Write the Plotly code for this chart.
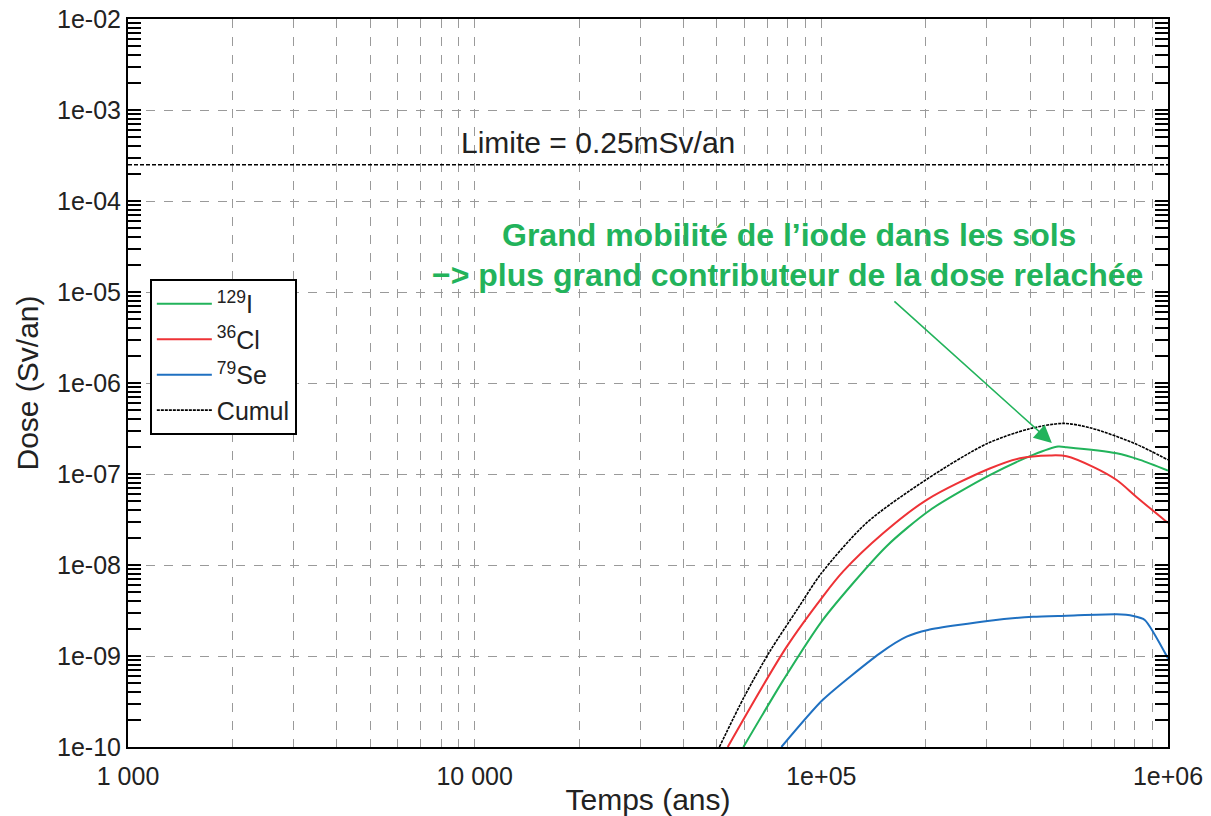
import plotly.graph_objects as go

# ---- Data (years, Sv/an) ----
t_cumul = [50800, 60000, 71000, 85000, 100000, 135000, 200000, 300000, 400000, 500000, 600000, 800000, 1000000]
d_cumul = [1e-10, 3.6e-10, 1.12e-9, 3.2e-9, 8.1e-9, 2.9e-8, 8.6e-8, 2.15e-7, 3.15e-7, 3.6e-7, 3.2e-7, 2.17e-7, 1.43e-7]

t_cl = [53700, 79400, 101000, 115600, 150700, 201400, 306000, 374000, 456000, 510000, 608000, 711000, 811000, 1000000]
d_cl = [1e-10, 1.26e-9, 4.5e-9, 8.5e-9, 2.23e-8, 5.2e-8, 1.15e-7, 1.49e-7, 1.6e-7, 1.57e-7, 1.2e-7, 8.6e-8, 5.6e-8, 2.9e-8]

t_i = [59600, 77600, 101000, 154000, 205600, 306000, 408000, 482000, 510000, 711000, 830000, 1000000]
d_i = [1e-10, 5.4e-10, 2.5e-9, 1.6e-8, 4.0e-8, 9.7e-8, 1.62e-7, 2.0e-7, 1.97e-7, 1.69e-7, 1.43e-7, 1.09e-7]

t_se = [76700, 101000, 147500, 176200, 203000, 306000, 408000, 510000, 711000, 794000, 857000, 1000000]
d_se = [1e-10, 3.3e-10, 1.07e-9, 1.63e-9, 1.93e-9, 2.44e-9, 2.7e-9, 2.77e-9, 2.87e-9, 2.75e-9, 2.49e-9, 9.4e-10]

limit_t = [1000, 1000000]
limit_d = [2.5e-4, 2.5e-4]

x_tickvals = [1e3, 1e4, 1e5, 1e6]
x_ticktext = ["1 000", "10 000", "1e+05", "1e+06"]
y_tickvals = [1e-10, 1e-9, 1e-8, 1e-7, 1e-6, 1e-5, 1e-4, 1e-3, 1e-2]
y_ticktext = ["1e-10", "1e-09", "1e-08", "1e-07", "1e-06", "1e-05", "1e-04", "1e-03", "1e-02"]

GREEN = "#22b35b"
RED = "#ee3236"
BLUE = "#1f70c1"
FONT = "Liberation Sans, Arial, sans-serif"
TXT = "#222"

x_minor = [k * 10 ** e for e in range(3, 6) for k in range(2, 10)]
y_minor = [k * 10 ** e for e in range(-10, -2) for k in range(2, 10)]

fig = go.Figure()
fig.add_trace(go.Scatter(x=limit_t, y=limit_d, mode="lines", showlegend=False,
                         line=dict(color="black", width=1.5, dash="4px,2px"), hoverinfo="skip"))
fig.add_trace(go.Scatter(x=t_i, y=d_i, mode="lines", name="<sup>129</sup>I",
                         line=dict(color=GREEN, width=2, shape="spline", smoothing=0.7)))
fig.add_trace(go.Scatter(x=t_cl, y=d_cl, mode="lines", name="<sup>36</sup>Cl",
                         line=dict(color=RED, width=2, shape="spline", smoothing=0.9)))
fig.add_trace(go.Scatter(x=t_se, y=d_se, mode="lines", name="<sup>79</sup>Se",
                         line=dict(color=BLUE, width=2, shape="spline", smoothing=0.6)))
fig.add_trace(go.Scatter(x=t_cumul, y=d_cumul, mode="lines", name="Cumul",
                         line=dict(color="black", width=1.6, dash="3px,1px", shape="spline", smoothing=0.8)))

fig.update_layout(
    width=1211, height=816,
    margin=dict(l=128, r=43, t=19, b=69, autoexpand=False),
    paper_bgcolor="white", plot_bgcolor="white",
    font=dict(family=FONT, size=25, color=TXT),
    showlegend=True,
    legend=dict(x=0.021, y=0.643, xanchor="left", yanchor="top",
                bgcolor="white", bordercolor="black", borderwidth=2,
                font=dict(size=25, color=TXT), itemwidth=55, tracegroupgap=0),
)

fig.update_xaxes(
    type="log", range=[3, 6], automargin=False,
    tickmode="array", tickvals=x_tickvals, ticktext=x_ticktext,
    ticks="", ticklabelstandoff=6,
    tickfont=dict(size=25, color=TXT),
    showline=True, linecolor="black", linewidth=2, mirror=True,
    showgrid=True, gridcolor="#9a9a9a", griddash="dash", gridwidth=1,
    minor=dict(tickmode="array", tickvals=x_minor, showgrid=True,
               gridcolor="#9a9a9a", griddash="dash", gridwidth=1, ticks=""),
    zeroline=False,
    title=dict(text="Temps (ans)", font=dict(size=30, color=TXT), standoff=2),
)

fig.update_yaxes(
    type="log", range=[-10, -2], automargin=False,
    tickmode="array", tickvals=y_tickvals, ticktext=y_ticktext,
    ticks="inside", ticklen=13, tickwidth=2, tickcolor="black",
    tickfont=dict(size=25, color=TXT),
    showline=True, linecolor="black", linewidth=2, mirror="allticks",
    showgrid=True, gridcolor="#9a9a9a", griddash="dash", gridwidth=1,
    minor=dict(tickmode="array", tickvals=y_minor, ticks="inside", ticklen=13,
               tickwidth=2, tickcolor="black", showgrid=False),
    zeroline=False,
    title=dict(text="Dose (Sv/an)", font=dict(size=30, color=TXT), standoff=10),
)

fig.add_annotation(x=0.452, y=0.831, xref="paper", yref="paper",
                   xanchor="center", yanchor="middle",
                   text="Limite = 0.25mSv/an", showarrow=False,
                   font=dict(size=30, color=TXT, family=FONT))

fig.add_annotation(x=0.636, y=0.7033, xref="paper", yref="paper",
                   xanchor="center", yanchor="middle",
                   text="<b>Grand mobilité de l’iode dans les sols</b>", showarrow=False,
                   font=dict(size=32, color=GREEN, family=FONT))
fig.add_annotation(x=0.634, y=0.6484, xref="paper", yref="paper",
                   xanchor="center", yanchor="middle",
                   text="<b>−> plus grand contributeur de la dose relachée</b>", showarrow=False,
                   font=dict(size=32, color=GREEN, family=FONT))

# arrow (log10 coordinates on log axes)
fig.add_annotation(x=5.665, y=-6.659, ax=5.2065, ay=-5.088,
                   xref="x", yref="y", axref="x", ayref="y",
                   text="", showarrow=True, arrowhead=2, arrowsize=2.2,
                   arrowwidth=1.6, arrowcolor=GREEN)

fig.write_html("out.html", config={"displayModeBar": False},
               post_script="document.body.style.margin='0';document.body.style.padding='0';")
